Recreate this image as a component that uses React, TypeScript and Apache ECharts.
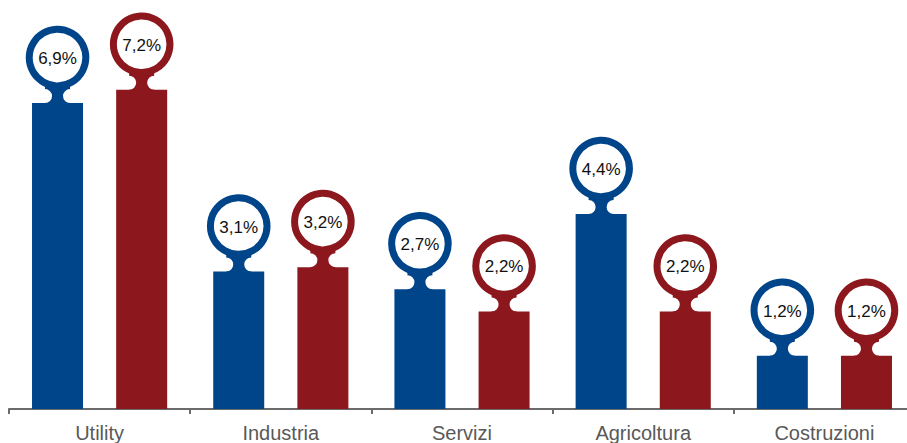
import React, { useEffect, useRef } from "react";
import * as echarts from "echarts";

const categories = ["Utility", "Industria", "Servizi", "Agricoltura", "Costruzioni"];
const seriesA = [6.9, 3.1, 2.7, 4.4, 1.2];
const seriesB = [7.2, 3.2, 2.2, 2.2, 1.2];
const seriesNames = ["Serie A", "Serie B"];
const colors = ["#00448a", "#8c171c"];

const BAR_W = 51;
const BAR_GAP = 0.65;
const FONT = "'Liberation Sans', Arial, sans-serif";

function fmt(v: number) {
  return v.toFixed(1).replace(".", ",") + "%";
}

function headSeries(values: number[], color: string, sign: number) {
  const offset = sign * (BAR_W + BAR_W * BAR_GAP) / 2;
  return {
    type: "custom",
    z: 5,
    encode: { x: 0, y: 1 },
    data: values.map((v, i) => [i, v]),
    renderItem: (_params: any, api: any) => {
      const idx = api.value(0);
      const val = api.value(1);
      const pt = api.coord([idx, val]);
      const cx = pt[0] + offset;
      const yTop = pt[1];
      const cy = yTop - 45.5;
      const nr = 7;
      const nx = 12.5;
      const y0 = cy + 26;
      const d =
        `M ${cx - nx} ${y0} L ${cx - nx} ${yTop - 2 * nr} ` +
        `A ${nr} ${nr} 0 0 1 ${cx - nx} ${yTop} L ${cx - nx} ${yTop + 1} ` +
        `L ${cx + nx} ${yTop + 1} L ${cx + nx} ${yTop} ` +
        `A ${nr} ${nr} 0 0 1 ${cx + nx} ${yTop - 2 * nr} L ${cx + nx} ${y0} Z`;
      return {
        type: "group",
        children: [
          {
            type: "path",
            shape: { pathData: d },
            style: { fill: color },
          },
          {
            type: "circle",
            shape: { cx, cy, r: 28.3 },
            style: { fill: "#ffffff", stroke: color, lineWidth: 7 },
          },
          {
            type: "text",
            x: cx,
            y: cy + 1,
            style: {
              text: fmt(val),
              fill: "#111111",
              font: `17px ${FONT}`,
              align: "center",
              verticalAlign: "middle",
            },
          },
        ],
      };
    },
  };
}

export default function App() {
  const ref = useRef<HTMLDivElement>(null);
  useEffect(() => {
    document.body.style.margin = "0";
    if (!ref.current) return;
    const chart = echarts.init(ref.current, undefined, { renderer: "svg" });
    chart.setOption({
      animation: false,
      grid: {
        left: 9,
        width: 906,
        top: 10,
        bottom: 34,
        containLabel: false,
        outerBoundsMode: "none",
      },
      xAxis: {
        type: "category",
        data: categories,
        axisLine: { show: true, lineStyle: { color: "#6b6b6b", width: 2 } },
        axisTick: { show: true, length: 5, lineStyle: { color: "#6b6b6b", width: 2 } },
        axisLabel: { color: "#595959", fontSize: 20, fontFamily: FONT, margin: 14 },
      },
      yAxis: {
        type: "value",
        min: 0,
        max: 9,
        show: false,
        splitLine: { show: false },
      },
      series: [
        {
          name: seriesNames[0],
          type: "bar",
          data: seriesA,
          barWidth: BAR_W,
          barGap: BAR_GAP * 100 + "%",
          itemStyle: { color: colors[0] },
        },
        {
          name: seriesNames[1],
          type: "bar",
          data: seriesB,
          barWidth: BAR_W,
          barGap: BAR_GAP * 100 + "%",
          itemStyle: { color: colors[1] },
        },
        headSeries(seriesA, colors[0], -1),
        headSeries(seriesB, colors[1], 1),
      ],
    });
    return () => chart.dispose();
  }, []);
  return (
    <div
      ref={ref}
      style={{ position: "absolute", left: 0, top: 0, width: 907, height: 443 }}
    />
  );
}
